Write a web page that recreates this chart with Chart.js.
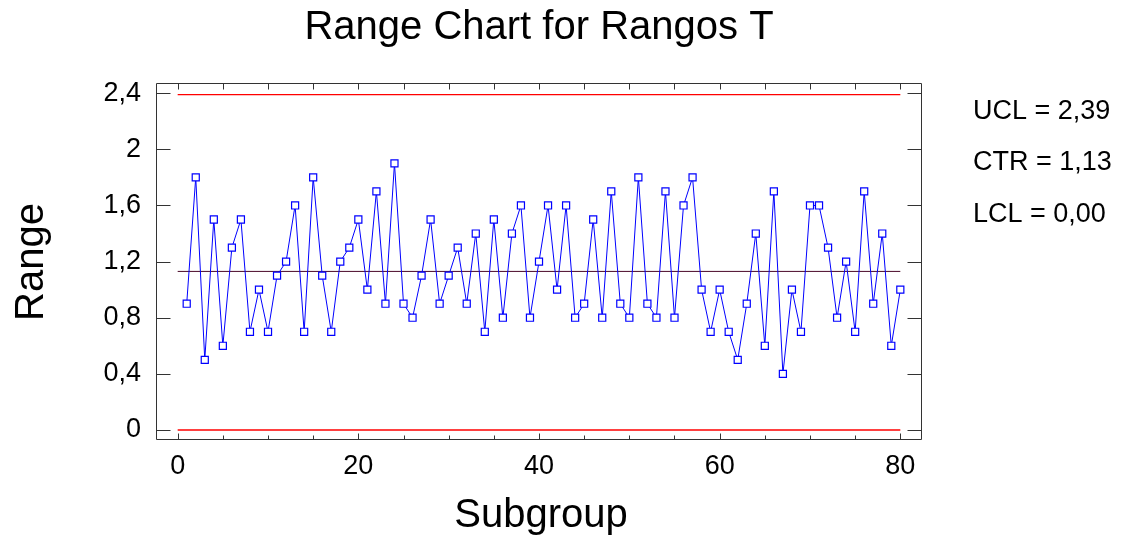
<!DOCTYPE html>
<html><head><meta charset="utf-8">
<script src="https://cdn.jsdelivr.net/npm/chart.js@4/dist/chart.umd.min.js"></script>
<style>html,body{margin:0;padding:0;background:#fff;}canvas{display:block;}</style>
</head><body>
<canvas id="c" width="1129" height="539"></canvas>
<script>
const chartTitle = 'Range Chart for Rangos T';
const xAxisTitle = 'Subgroup';
const yAxisTitle = 'Range';
const subgroups = [1,2,3,4,5,6,7,8,9,10,11,12,13,14,15,16,17,18,19,20,
  21,22,23,24,25,26,27,28,29,30,31,32,33,34,35,36,37,38,39,40,
  41,42,43,44,45,46,47,48,49,50,51,52,53,54,55,56,57,58,59,60,
  61,62,63,64,65,66,67,68,69,70,71,72,73,74,75,76,77,78,79,80];
const ranges = [0.9,1.8,0.5,1.5,0.6,1.3,1.5,0.7,1.0,0.7,
  1.1,1.2,1.6,0.7,1.8,1.1,0.7,1.2,1.3,1.5,
  1.0,1.7,0.9,1.9,0.9,0.8,1.1,1.5,0.9,1.1,
  1.3,0.9,1.4,0.7,1.5,0.8,1.4,1.6,0.8,1.2,
  1.6,1.0,1.6,0.8,0.9,1.5,0.8,1.7,0.9,0.8,
  1.8,0.9,0.8,1.7,0.8,1.6,1.8,1.0,0.7,1.0,
  0.7,0.5,0.9,1.4,0.6,1.7,0.4,1.0,0.7,1.6,
  1.6,1.3,0.8,1.2,0.7,1.7,0.9,1.4,0.6,1.0];
const ucl = 2.39, ctr = 1.13, lcl = 0.00;
const limitSpan = [0, 80];
const controlLabels = ['UCL = 2,39', 'CTR = 1,13', 'LCL = 0,00'];
const yTicks = [0, 0.4, 0.8, 1.2, 1.6, 2, 2.4];
const xTicks = [0, 20, 40, 60, 80];
const xMinorTicks = [0,5,10,15,20,25,30,35,40,45,50,55,60,65,70,75,80];

const FONT = '"Liberation Sans", Arial, sans-serif';
const fmt = v => String(v).replace('.', ',');

const decor = {
  id: 'decor',
  beforeDatasetsDraw(chart) {
    const ctx = chart.ctx, a = chart.chartArea;
    const xs = chart.scales.x, ys = chart.scales.y;
    ctx.save();
    ctx.strokeStyle = '#333';
    ctx.lineWidth = 1;
    ctx.beginPath();
    const L = Math.round(a.left) + 0.5, R = Math.round(a.right) - 0.5;
    const T = Math.round(a.top) + 0.5, B = Math.round(a.bottom) - 0.5;
    ctx.rect(L, T, R - L, B - T);
    yTicks.forEach(v => {
      const y = Math.round(ys.getPixelForValue(v)) + 0.5;
      ctx.moveTo(L, y); ctx.lineTo(L + 14, y);
      ctx.moveTo(R, y); ctx.lineTo(R - 14, y);
    });
    xMinorTicks.forEach(v => {
      const x = Math.round(xs.getPixelForValue(v)) + 0.5;
      ctx.moveTo(x, T); ctx.lineTo(x, T + 6);
      const len = xTicks.includes(v) ? 6 : 4;
      ctx.moveTo(x, B); ctx.lineTo(x, B - len);
    });
    ctx.stroke();
    ctx.restore();
  },
  afterDraw(chart) {
    const ctx = chart.ctx;
    ctx.save();
    ctx.fillStyle = '#000';
    ctx.textBaseline = 'alphabetic';
    ctx.textAlign = 'center';
    ctx.font = '40px ' + FONT;
    ctx.fillText(chartTitle, 539, 39);
    ctx.font = '40px ' + FONT;
    ctx.fillText(xAxisTitle, 541, 527);
    ctx.save();
    ctx.translate(43, 262);
    ctx.rotate(-Math.PI / 2);
    ctx.fillText(yAxisTitle, 0, 0);
    ctx.restore();
    ctx.textAlign = 'left';
    ctx.font = '27px ' + FONT;
    const baselines = [119, 170, 222];
    controlLabels.forEach((t, i) => ctx.fillText(t, 973, baselines[i]));
    ctx.restore();
  }
};

new Chart(document.getElementById('c'), {
  type: 'line',
  data: {
    datasets: [
      {
        label: 'Range',
        data: subgroups.map((s, i) => ({x: s, y: ranges[i]})),
        borderColor: '#0000ff',
        borderWidth: 1,
        pointStyle: 'rect',
        pointRadius: 5,
        pointBorderWidth: 1.2,
        pointBorderColor: '#0000ff',
        pointBackgroundColor: '#ffffff',
        tension: 0
      },
      {
        label: 'CTR',
        data: limitSpan.map(x => ({x, y: ctr})),
        borderColor: '#4a0828', borderWidth: 1, pointRadius: 0
      },
      {
        label: 'UCL',
        data: limitSpan.map(x => ({x, y: ucl})),
        borderColor: '#ff0000', borderWidth: 1.3, pointRadius: 0
      },
      {
        label: 'LCL',
        data: limitSpan.map(x => ({x, y: lcl})),
        borderColor: '#ff0000', borderWidth: 1.3, pointRadius: 0
      }
    ]
  },
  options: {
    responsive: false,
    animation: false,
    devicePixelRatio: 1,
    layout: { padding: { left: 0, right: 207, top: 83, bottom: 39 } },
    plugins: { legend: { display: false }, title: { display: false }, tooltip: { enabled: false } },
    scales: {
      x: {
        type: 'linear', min: -2.4, max: 82.4,
        grid: { display: false, drawTicks: false },
        border: { display: false },
        afterFit: s => { s.height = 60; },
        afterBuildTicks: s => { s.ticks = xTicks.map(v => ({value: v})); },
        ticks: { padding: 10, color: '#000', font: { family: FONT, size: 27 }, maxRotation: 0, autoSkip: false, callback: v => fmt(v) }
      },
      y: {
        type: 'linear', min: -0.0713, max: 2.4727,
        grid: { display: false, drawTicks: false },
        border: { display: false },
        afterFit: s => { s.width = 156; },
        afterBuildTicks: s => { s.ticks = yTicks.map(v => ({value: v})); },
        ticks: { padding: 15, color: '#000', font: { family: FONT, size: 27 }, autoSkip: false, callback: v => fmt(v) }
      }
    }
  },
  plugins: [decor]
});
</script>
</body></html>
